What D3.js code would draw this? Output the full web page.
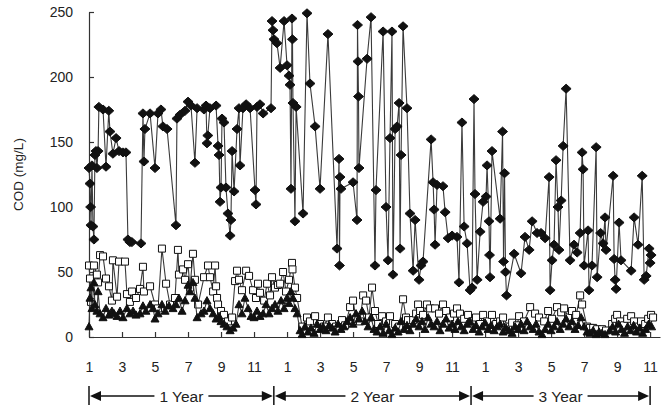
<!DOCTYPE html>
<html>
<head>
<meta charset="utf-8">
<script src="https://cdn.jsdelivr.net/npm/d3@7"></script>
<style>
  body { margin: 0; background: #fff; }
  svg text { font-family: "Liberation Sans", Arial, sans-serif; fill: #222; }
</style>
</head>
<body>
<div id="chart"></div>
<script>
// time is in months counted from month 1 of year 1 (0 = Jan, year 1)
var monthTicks = d3.range(0, 35, 2);
var yTicks = [0, 50, 100, 150, 200, 250];
var yearLabels = ["1 Year", "2 Year", "3 Year"];
var yearBounds = [0, 11.2, 23.15, 34];

// influent COD (black diamonds)
var codInfluent = [
  [0.0,130],[0.06,118],[0.1,100],[0.12,86],[0.18,132],[0.24,85],[0.3,75],[0.36,140],[0.42,143],[0.48,130],
  [0.55,143],[0.6,177],[0.85,175],[1.03,131],[1.2,174],[1.27,158],[1.45,141],[1.64,153],[1.82,143],[2.06,142],
  [2.24,142],[2.36,75],[2.48,73],[2.6,73],[3.15,72],[3.27,172],[3.33,135],[3.39,160],[3.7,172],[4.0,130],
  [4.18,172],[4.36,175],[4.48,162],[4.73,160],[5.27,86],[5.33,168],[5.52,171],[5.82,174],[6.0,181],[6.18,178],
  [6.42,134],[6.55,176],[6.97,175],[7.09,178],[7.15,149],[7.2,155],[7.33,176],[7.7,178],[7.82,147],[7.88,140],
  [7.94,104],[8.0,115],[8.06,168],[8.18,165],[8.3,115],[8.42,95],[8.55,78],[8.6,90],[8.67,143],[8.79,112],
  [8.97,160],[9.09,176],[9.15,132],[9.33,176],[9.52,179],[9.76,176],[10.06,113],[10.12,102],[10.18,177],[10.36,179],
  [10.55,172],[11.03,176],[11.09,243],[11.15,236],[11.21,229],[11.39,226],[11.58,207],[11.82,243],[12.0,209],[12.12,201],
  [12.18,194],[12.24,114],[12.3,245],[12.33,229],[12.36,180],[12.48,89],[12.55,177],[12.97,95],[13.21,249],[13.39,195],
  [13.7,162],[14.0,114],[14.48,233],[15.03,68],[15.15,137],[15.18,55],[15.21,123],[15.27,114],[16.0,119],[16.24,90],
  [16.27,240],[16.3,212],[16.33,185],[16.36,130],[16.85,214],[17.09,246],[17.33,55],[17.39,113],[17.82,235],[18.0,100],
  [18.12,59],[18.24,153],[18.36,235],[18.42,48],[18.55,160],[18.67,162],[18.79,180],[18.85,68],[18.91,140],[19.03,239],
  [19.27,176],[19.45,95],[19.64,51],[19.76,90],[20.0,44],[20.12,55],[20.24,58],[20.73,152],[20.85,119],[20.91,98],
  [20.97,71],[21.09,117],[21.45,116],[21.58,96],[21.76,76],[22.0,78],[22.3,77],[22.42,42],[22.6,165],[22.73,85],
  [22.91,72],[23.09,36],[23.21,38],[23.33,183],[23.39,110],[23.52,44],[23.7,81],[23.88,104],[24.06,108],[24.12,132],
  [24.24,89],[24.27,63],[24.3,46],[24.42,143],[24.91,91],[25.06,158],[25.12,58],[25.18,126],[25.24,50],[25.3,32],
  [25.76,64],[26.18,49],[26.42,77],[26.67,67],[26.85,89],[27.15,80],[27.39,80],[27.64,76],[27.88,123],[27.94,36],
  [28.06,59],[28.18,71],[28.3,136],[28.42,100],[28.48,67],[28.61,105],[28.73,147],[28.91,191],[29.15,59],[29.39,71],
  [29.58,65],[29.76,80],[29.88,142],[29.94,129],[30.0,55],[30.24,82],[30.3,36],[30.48,55],[30.73,146],[30.79,46],
  [31.0,80],[31.15,72],[31.27,92],[31.33,67],[31.76,124],[31.82,60],[31.88,44],[31.94,37],[32.12,88],[32.24,59],
  [32.85,51],[33.03,92],[33.27,71],[33.52,124],[33.64,44],[33.76,47],[33.94,68],[34.0,57],[34.06,63]
];

// effluent COD, first stage (open squares)
var codStage1 = [
  [0.0,55],[0.06,45],[0.12,27],[0.3,55],[0.48,48],[0.55,42],[0.67,63],[0.85,62],[1.03,45],[1.21,39],
  [1.39,28],[1.45,59],[1.7,31],[1.82,58],[2.18,58],[2.3,33],[2.48,27],[2.61,35],[2.85,30],[3.09,37],
  [3.27,54],[3.33,35],[3.7,39],[4.0,25],[4.18,22],[4.42,68],[4.67,41],[4.91,25],[5.21,30],[5.39,67],
  [5.45,48],[5.7,52],[5.82,44],[6.0,56],[6.12,38],[6.3,64],[6.42,44],[6.61,25],[6.97,46],[7.21,55],
  [7.33,46],[7.52,35],[7.64,55],[7.7,39],[7.76,30],[7.82,25],[8.0,20],[8.18,17],[8.42,12],[8.67,15],
  [8.85,43],[8.97,51],[9.09,44],[9.27,36],[9.52,51],[9.7,47],[9.94,36],[10.12,30],[10.24,41],[10.36,34],
  [10.61,28],[10.79,41],[10.97,32],[11.09,46],[11.27,38],[11.45,40],[11.58,41],[11.76,50],[11.94,35],[12.12,44],
  [12.3,57],[12.33,52],[12.48,38],[12.61,30],[12.91,8],[13.21,15],[13.39,12],[13.7,16],[14.0,10],[14.24,8],
  [14.48,15],[14.73,10],[14.97,8],[15.33,13],[15.52,9],[15.82,23],[16.0,28],[16.18,14],[16.42,12],[16.61,32],
  [16.79,28],[16.97,15],[17.15,38],[17.33,20],[17.52,10],[17.76,16],[18.0,12],[18.24,16],[18.55,10],[18.79,8],
  [19.03,29],[19.21,15],[19.33,13],[19.64,13],[19.82,18],[19.94,25],[20.06,20],[20.24,17],[20.48,25],[20.67,22],
  [20.97,22],[21.21,18],[21.45,25],[21.64,20],[21.88,15],[22.12,18],[22.3,22],[22.48,18],[22.73,14],[22.97,17],
  [23.21,12],[23.45,15],[23.7,10],[23.88,17],[24.12,12],[24.42,17],[24.67,10],[24.91,12],[25.09,15],[25.39,8],
  [25.64,11],[25.94,9],[26.06,16],[26.36,12],[26.73,23],[27.03,18],[27.27,15],[27.58,12],[27.82,20],[28.06,14],
  [28.36,23],[28.61,19],[28.79,22],[29.03,15],[29.27,20],[29.52,17],[29.76,32],[29.88,25],[30.18,8],[30.36,7],
  [30.55,7],[30.79,6],[31.09,6],[31.33,5],[31.7,10],[31.88,14],[32.0,17],[32.18,12],[32.42,9],[32.61,14],
  [32.85,16],[33.03,12],[33.21,8],[33.45,12],[33.7,10],[33.88,14],[34.06,17],[34.18,15]
];

// effluent COD, second stage (black triangles)
var codStage2 = [
  [0.0,8],[0.06,30],[0.12,38],[0.18,22],[0.3,42],[0.36,25],[0.48,20],[0.55,35],[0.67,18],[0.85,15],
  [1.03,22],[1.21,17],[1.39,20],[1.52,18],[1.7,16],[1.88,20],[2.06,15],[2.3,22],[2.48,18],[2.67,20],
  [2.85,17],[3.09,18],[3.27,24],[3.45,20],[3.7,25],[3.88,22],[4.0,14],[4.18,18],[4.42,25],[4.61,20],
  [4.85,24],[5.09,22],[5.27,25],[5.45,30],[5.64,20],[5.82,28],[6.0,40],[6.12,35],[6.3,42],[6.42,30],
  [6.55,15],[6.79,18],[6.97,20],[7.15,28],[7.33,22],[7.52,18],[7.7,14],[7.88,16],[8.0,12],[8.18,10],
  [8.36,8],[8.55,5],[8.73,7],[8.91,10],[9.09,25],[9.27,18],[9.45,30],[9.64,22],[9.82,16],[10.0,15],
  [10.18,20],[10.36,16],[10.55,18],[10.73,25],[10.91,18],[11.09,22],[11.27,25],[11.45,20],[11.64,28],[11.82,22],
  [12.0,30],[12.12,26],[12.24,35],[12.36,30],[12.48,22],[12.61,18],[12.79,5],[12.91,2],[13.09,8],[13.27,4],
  [13.45,7],[13.64,3],[13.82,10],[14.0,6],[14.18,8],[14.36,5],[14.55,9],[14.73,7],[14.91,4],[15.09,10],
  [15.27,6],[15.45,8],[15.64,12],[15.82,15],[16.0,10],[16.18,18],[16.36,14],[16.55,20],[16.73,12],[16.91,8],
  [17.09,15],[17.27,6],[17.45,4],[17.64,8],[17.82,3],[18.0,10],[18.18,5],[18.36,2],[18.55,7],[18.73,4],
  [18.91,12],[19.09,6],[19.27,9],[19.45,5],[19.64,10],[19.82,14],[20.0,8],[20.18,12],[20.36,6],[20.55,15],
  [20.73,10],[20.91,8],[21.09,12],[21.27,5],[21.45,10],[21.64,14],[21.82,7],[22.0,10],[22.18,6],[22.36,12],
  [22.55,8],[22.73,5],[22.91,10],[23.09,12],[23.27,6],[23.45,9],[23.64,4],[23.82,8],[24.0,11],[24.18,6],
  [24.36,9],[24.55,5],[24.73,8],[24.91,10],[25.09,4],[25.27,7],[25.45,5],[25.64,3],[25.82,8],[26.0,6],
  [26.18,10],[26.36,5],[26.55,12],[26.73,8],[26.91,6],[27.09,10],[27.27,4],[27.45,2],[27.64,6],[27.82,10],
  [28.0,5],[28.18,8],[28.36,12],[28.55,6],[28.73,10],[28.91,14],[29.09,8],[29.27,12],[29.45,6],[29.64,9],
  [29.82,15],[30.0,8],[30.18,4],[30.36,3],[30.55,5],[30.73,2],[30.91,4],[31.09,3],[31.27,2],[31.55,5],
  [31.73,8],[31.91,4],[32.09,10],[32.27,6],[32.45,3],[32.64,8],[32.82,5],[33.0,9],[33.18,4],[33.36,7],
  [33.55,3],[33.73,6],[33.91,10],[34.09,8]
];

var width = 664, height = 405;
var margin = {left: 89, top: 12, bottom: 68};

var svg = d3.select("#chart").append("svg")
    .attr("width", width)
    .attr("height", height);

var x = d3.scaleLinear().domain([0, 34.6]).range([margin.left, 660]);
var y = d3.scaleLinear().domain([0, 250]).range([height - margin.bottom, margin.top]);

/* axes, ticks pointing into the plot like the original */
var yAxis = svg.append("g")
    .attr("transform", "translate(" + margin.left + ",0)")
    .call(d3.axisLeft(y).tickValues(yTicks).tickSize(-5).tickSizeOuter(0).tickPadding(16));

var xAxis = svg.append("g")
    .attr("transform", "translate(0," + y(0) + ")")
    .call(d3.axisBottom(x).tickValues(monthTicks).tickSize(-5).tickSizeOuter(0).tickPadding(25)
        .tickFormat(function (d) { return (d % 12) + 1; }));

svg.selectAll(".domain, .tick line").attr("stroke", "#333").attr("stroke-width", 1.2);
svg.selectAll(".tick text").attr("font-size", 14).attr("fill", "#222")
    .style("font-family", "'Liberation Sans', Arial, sans-serif");

svg.append("text")
    .attr("transform", "translate(18," + y(125) + ") rotate(-90)")
    .attr("text-anchor", "middle")
    .attr("dy", "0.35em")
    .attr("font-size", 13.5)
    .text("COD (mg/L)");

var line = d3.line()
    .x(function (d) { return x(d[0]); })
    .y(function (d) { return y(d[1]); });

function drawSeries(data, markerPath, fill) {
    var g = svg.append("g");
    g.append("path")
        .datum(data)
        .attr("d", line)
        .attr("fill", "none")
        .attr("stroke", "#3a3a3a")
        .attr("stroke-width", 1.1);
    g.selectAll("path.pt")
        .data(data)
        .enter().append("path")
        .attr("class", "pt")
        .attr("transform", function (d) { return "translate(" + x(d[0]) + "," + y(d[1]) + ")"; })
        .attr("d", markerPath)
        .attr("fill", fill)
        .attr("stroke", "#111")
        .attr("stroke-width", 1);
}

drawSeries(codInfluent, "M0,-4.5L5,0L0,4.5L-5,0Z", "#111");
drawSeries(codStage1, "M-3.5,-3.5H3.5V3.5H-3.5Z", "#fff");
drawSeries(codStage2, "M0,-4L4,3.2H-4Z", "#111");

/* year brackets with arrows under the month labels */
var by = 396;
var brackets = svg.append("g");
yearLabels.forEach(function (label, i) {
    var x0 = x(yearBounds[i]), x1 = x(yearBounds[i + 1]);
    var cx = (x0 + x1) / 2;
    var t = brackets.append("text")
        .attr("x", cx)
        .attr("y", by)
        .attr("dy", "0.36em")
        .attr("text-anchor", "middle")
        .attr("font-size", 15.5)
        .text(label);
    var half = t.node().getComputedTextLength() / 2 + 5;
    brackets.append("line").attr("x1", x0 + 8).attr("x2", cx - half)
        .attr("y1", by).attr("y2", by).attr("stroke", "#111").attr("stroke-width", 1.5);
    brackets.append("line").attr("x1", cx + half).attr("x2", x1 - 8)
        .attr("y1", by).attr("y2", by).attr("stroke", "#111").attr("stroke-width", 1.5);
    brackets.append("path")
        .attr("d", "M" + (x0 + 1) + "," + by + "L" + (x0 + 12) + "," + (by - 5) + "L" + (x0 + 12) + "," + (by + 5) + "Z")
        .attr("fill", "#111");
    brackets.append("path")
        .attr("d", "M" + (x1 - 1) + "," + by + "L" + (x1 - 12) + "," + (by - 5) + "L" + (x1 - 12) + "," + (by + 5) + "Z")
        .attr("fill", "#111");
});
yearBounds.forEach(function (b) {
    brackets.append("line")
        .attr("x1", x(b)).attr("x2", x(b))
        .attr("y1", by - 10).attr("y2", by + 10)
        .attr("stroke", "#111").attr("stroke-width", 1.5);
});
</script>
</body>
</html>
